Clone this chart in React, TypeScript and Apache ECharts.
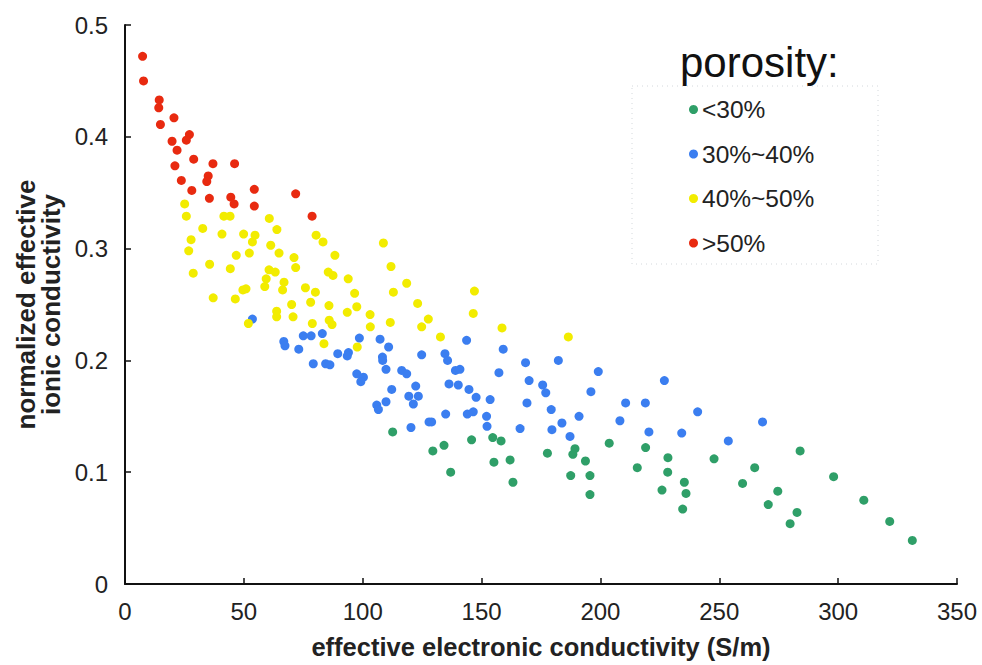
import React, { useEffect, useRef } from "react";
import * as echarts from "echarts";

const seriesNames = ["<30%", "30%~40%", "40%~50%", ">50%"];
const seriesColors = ["#2f9f68", "#3b7ef0", "#f2ec00", "#e82a10"];

const xTicks = [0, 50, 100, 150, 200, 250, 300, 350];
const yTicks = [0, 0.1, 0.2, 0.3, 0.4, 0.5];

const below30: number[][] = [
  [112.6, 0.136], [134.2, 0.124], [129.5, 0.119], [145.8, 0.129], [154.7, 0.131], [158.2, 0.128],
  [137.0, 0.100], [155.2, 0.109], [162.0, 0.111], [163.2, 0.091], [177.7, 0.117], [189.3, 0.121],
  [188.4, 0.116], [193.7, 0.110], [187.5, 0.097], [195.6, 0.097], [195.6, 0.080], [203.7, 0.126],
  [219.0, 0.122], [228.4, 0.113], [247.8, 0.112], [284.0, 0.119], [215.5, 0.104], [228.3, 0.100],
  [264.9, 0.104], [235.3, 0.091], [259.8, 0.090], [225.9, 0.084], [236.0, 0.081], [274.6, 0.083],
  [270.6, 0.071], [234.6, 0.067], [282.7, 0.064], [279.8, 0.054], [298.1, 0.096], [310.8, 0.075],
  [321.7, 0.056], [331.2, 0.039],
];

const from30to40: number[][] = [
  [53.6, 0.237], [66.8, 0.217], [67.3, 0.213], [75.0, 0.222], [78.3, 0.222], [83.0, 0.224],
  [73.1, 0.210], [98.6, 0.220], [107.3, 0.219], [110.9, 0.212], [89.5, 0.206], [94.0, 0.207],
  [93.5, 0.204], [108.3, 0.203], [108.4, 0.200], [79.2, 0.197], [84.4, 0.197], [86.2, 0.196],
  [109.8, 0.192], [97.5, 0.188], [100.3, 0.185], [99.2, 0.181], [116.4, 0.191], [118.5, 0.188],
  [112.2, 0.174], [124.8, 0.205], [134.6, 0.206], [135.7, 0.200], [143.7, 0.218], [159.1, 0.210],
  [122.3, 0.177], [119.4, 0.168], [123.4, 0.168], [139.0, 0.191], [140.9, 0.192], [136.3, 0.179],
  [140.2, 0.178], [144.7, 0.174], [147.7, 0.167], [153.6, 0.165], [157.3, 0.189], [168.5, 0.198],
  [170.0, 0.182], [175.7, 0.178], [177.0, 0.171], [182.3, 0.200], [199.1, 0.190], [196.0, 0.172],
  [226.9, 0.182], [210.6, 0.162], [218.9, 0.162], [191.0, 0.150], [208.2, 0.146], [240.9, 0.154],
  [220.4, 0.136], [234.2, 0.135], [268.2, 0.145], [253.8, 0.128], [105.9, 0.160], [106.6, 0.156],
  [109.8, 0.163], [121.3, 0.161], [169.1, 0.162], [179.3, 0.156], [183.8, 0.144], [179.6, 0.138],
  [187.2, 0.132], [134.9, 0.152], [144.0, 0.152], [146.5, 0.154], [152.1, 0.150], [152.3, 0.141],
  [166.2, 0.139], [127.9, 0.145], [129.0, 0.145], [120.3, 0.140],
];

const from40to50: number[][] = [
  [25.1, 0.340], [25.8, 0.329], [41.6, 0.329], [44.2, 0.329], [60.7, 0.327], [32.7, 0.318],
  [40.8, 0.313], [49.9, 0.313], [54.7, 0.312], [63.9, 0.317], [80.4, 0.312], [83.3, 0.306],
  [108.7, 0.305], [27.8, 0.308], [53.6, 0.306], [26.8, 0.298], [61.3, 0.303], [46.8, 0.294],
  [52.3, 0.296], [64.8, 0.296], [71.1, 0.292], [88.3, 0.294], [35.6, 0.286], [44.3, 0.282],
  [28.7, 0.278], [71.8, 0.283], [60.6, 0.281], [63.2, 0.279], [85.5, 0.279], [87.5, 0.276],
  [111.9, 0.284], [59.4, 0.273], [66.9, 0.270], [93.9, 0.273], [58.8, 0.266], [66.3, 0.263],
  [50.9, 0.264], [49.6, 0.263], [75.9, 0.265], [80.1, 0.261], [96.6, 0.260], [112.9, 0.261],
  [118.5, 0.269], [37.1, 0.256], [46.4, 0.255], [78.1, 0.252], [70.1, 0.250], [85.8, 0.249],
  [97.5, 0.248], [63.8, 0.244], [93.5, 0.243], [103.1, 0.241], [63.8, 0.239], [70.7, 0.239],
  [85.9, 0.236], [87.1, 0.232], [78.8, 0.233], [51.9, 0.233], [111.6, 0.234], [103.2, 0.230],
  [83.7, 0.215], [97.7, 0.212], [123.1, 0.251], [147.0, 0.262], [146.5, 0.242], [127.6, 0.237],
  [124.8, 0.230], [132.7, 0.221], [158.6, 0.229], [186.5, 0.221],
];

const above50: number[][] = [
  [7.4, 0.472], [7.8, 0.450], [14.4, 0.433], [14.2, 0.426], [20.6, 0.417], [14.9, 0.411],
  [27.1, 0.402], [25.8, 0.397], [19.8, 0.396], [21.9, 0.388], [28.9, 0.380], [21.0, 0.374],
  [37.0, 0.376], [46.1, 0.376], [35.0, 0.365], [34.4, 0.360], [23.7, 0.361], [28.1, 0.352],
  [54.4, 0.353], [71.8, 0.349], [35.5, 0.345], [44.5, 0.346], [45.9, 0.340], [54.4, 0.338],
  [78.7, 0.329],
];

const allSeries = [below30, from30to40, from40to50, above50];

const FONT = "'Liberation Sans', Arial, Helvetica, sans-serif";

export default function App() {
  const ref = useRef<HTMLDivElement>(null);
  useEffect(() => {
    document.body.style.margin = "0";
    if (!ref.current) return;
    const chart = echarts.init(ref.current, undefined, { renderer: "svg" });
    const axisLine = { show: true, lineStyle: { color: "#111", width: 2 } };
    chart.setOption({
      animation: false,
      backgroundColor: "#fff",
      textStyle: { fontFamily: FONT },
      title: {
        text: "porosity:",
        left: 675,
        top: 36,
        textStyle: { fontFamily: FONT, fontSize: 42, fontWeight: "normal", color: "#111" },
      },
      legend: {
        orient: "vertical",
        left: 684,
        top: 92,
        itemGap: 19.5,
        itemWidth: 9,
        itemHeight: 9,
        icon: "circle",
        data: seriesNames,
        textStyle: { fontFamily: FONT, fontSize: 24.5, color: "#222", padding: [0, 0, 0, -1] },
      },
      graphic: [
        {
          type: "rect",
          shape: { x: 632, y: 86, width: 246, height: 178 },
          style: { fill: "none", stroke: "#d4d8dc", lineWidth: 1, lineDash: [1, 4] },
          silent: true,
        },
      ],
      grid: { left: 125, right: 25, top: 25, bottom: 81, containLabel: false },
      xAxis: {
        type: "value",
        min: xTicks[0],
        max: xTicks[xTicks.length - 1],
        interval: 50,
        name: "effective electronic conductivity (S/m)",
        nameLocation: "middle",
        nameGap: 50,
        nameTextStyle: { fontFamily: FONT, fontSize: 25.5, fontWeight: "bold", color: "#222" },
        axisLine,
        axisTick: { show: true, inside: true, length: 6, lineStyle: { color: "#111", width: 1.5 } },
        axisLabel: { fontFamily: FONT, fontSize: 24, color: "#222", margin: 15 },
        splitLine: { show: false },
      },
      yAxis: {
        type: "value",
        min: yTicks[0],
        max: yTicks[yTicks.length - 1],
        interval: 0.1,
        name: "normalized effective\nionic conductivity",
        nameLocation: "middle",
        nameGap: 62,
        nameTextStyle: { fontFamily: FONT, fontSize: 26, fontWeight: "bold", color: "#222", lineHeight: 25 },
        axisLine,
        axisTick: { show: true, inside: true, length: 6, lineStyle: { color: "#111", width: 1.5 } },
        axisLabel: { fontFamily: FONT, fontSize: 24, color: "#222", margin: 17 },
        splitLine: { show: false },
      },
      series: allSeries.map((d, i) => ({
        name: seriesNames[i],
        type: "scatter",
        data: d,
        symbol: "circle",
        symbolSize: 9,
        itemStyle: { color: seriesColors[i], opacity: 1 },
      })),
    });
    return () => chart.dispose();
  }, []);
  return <div ref={ref} style={{ width: 982, height: 665 }} />;
}
